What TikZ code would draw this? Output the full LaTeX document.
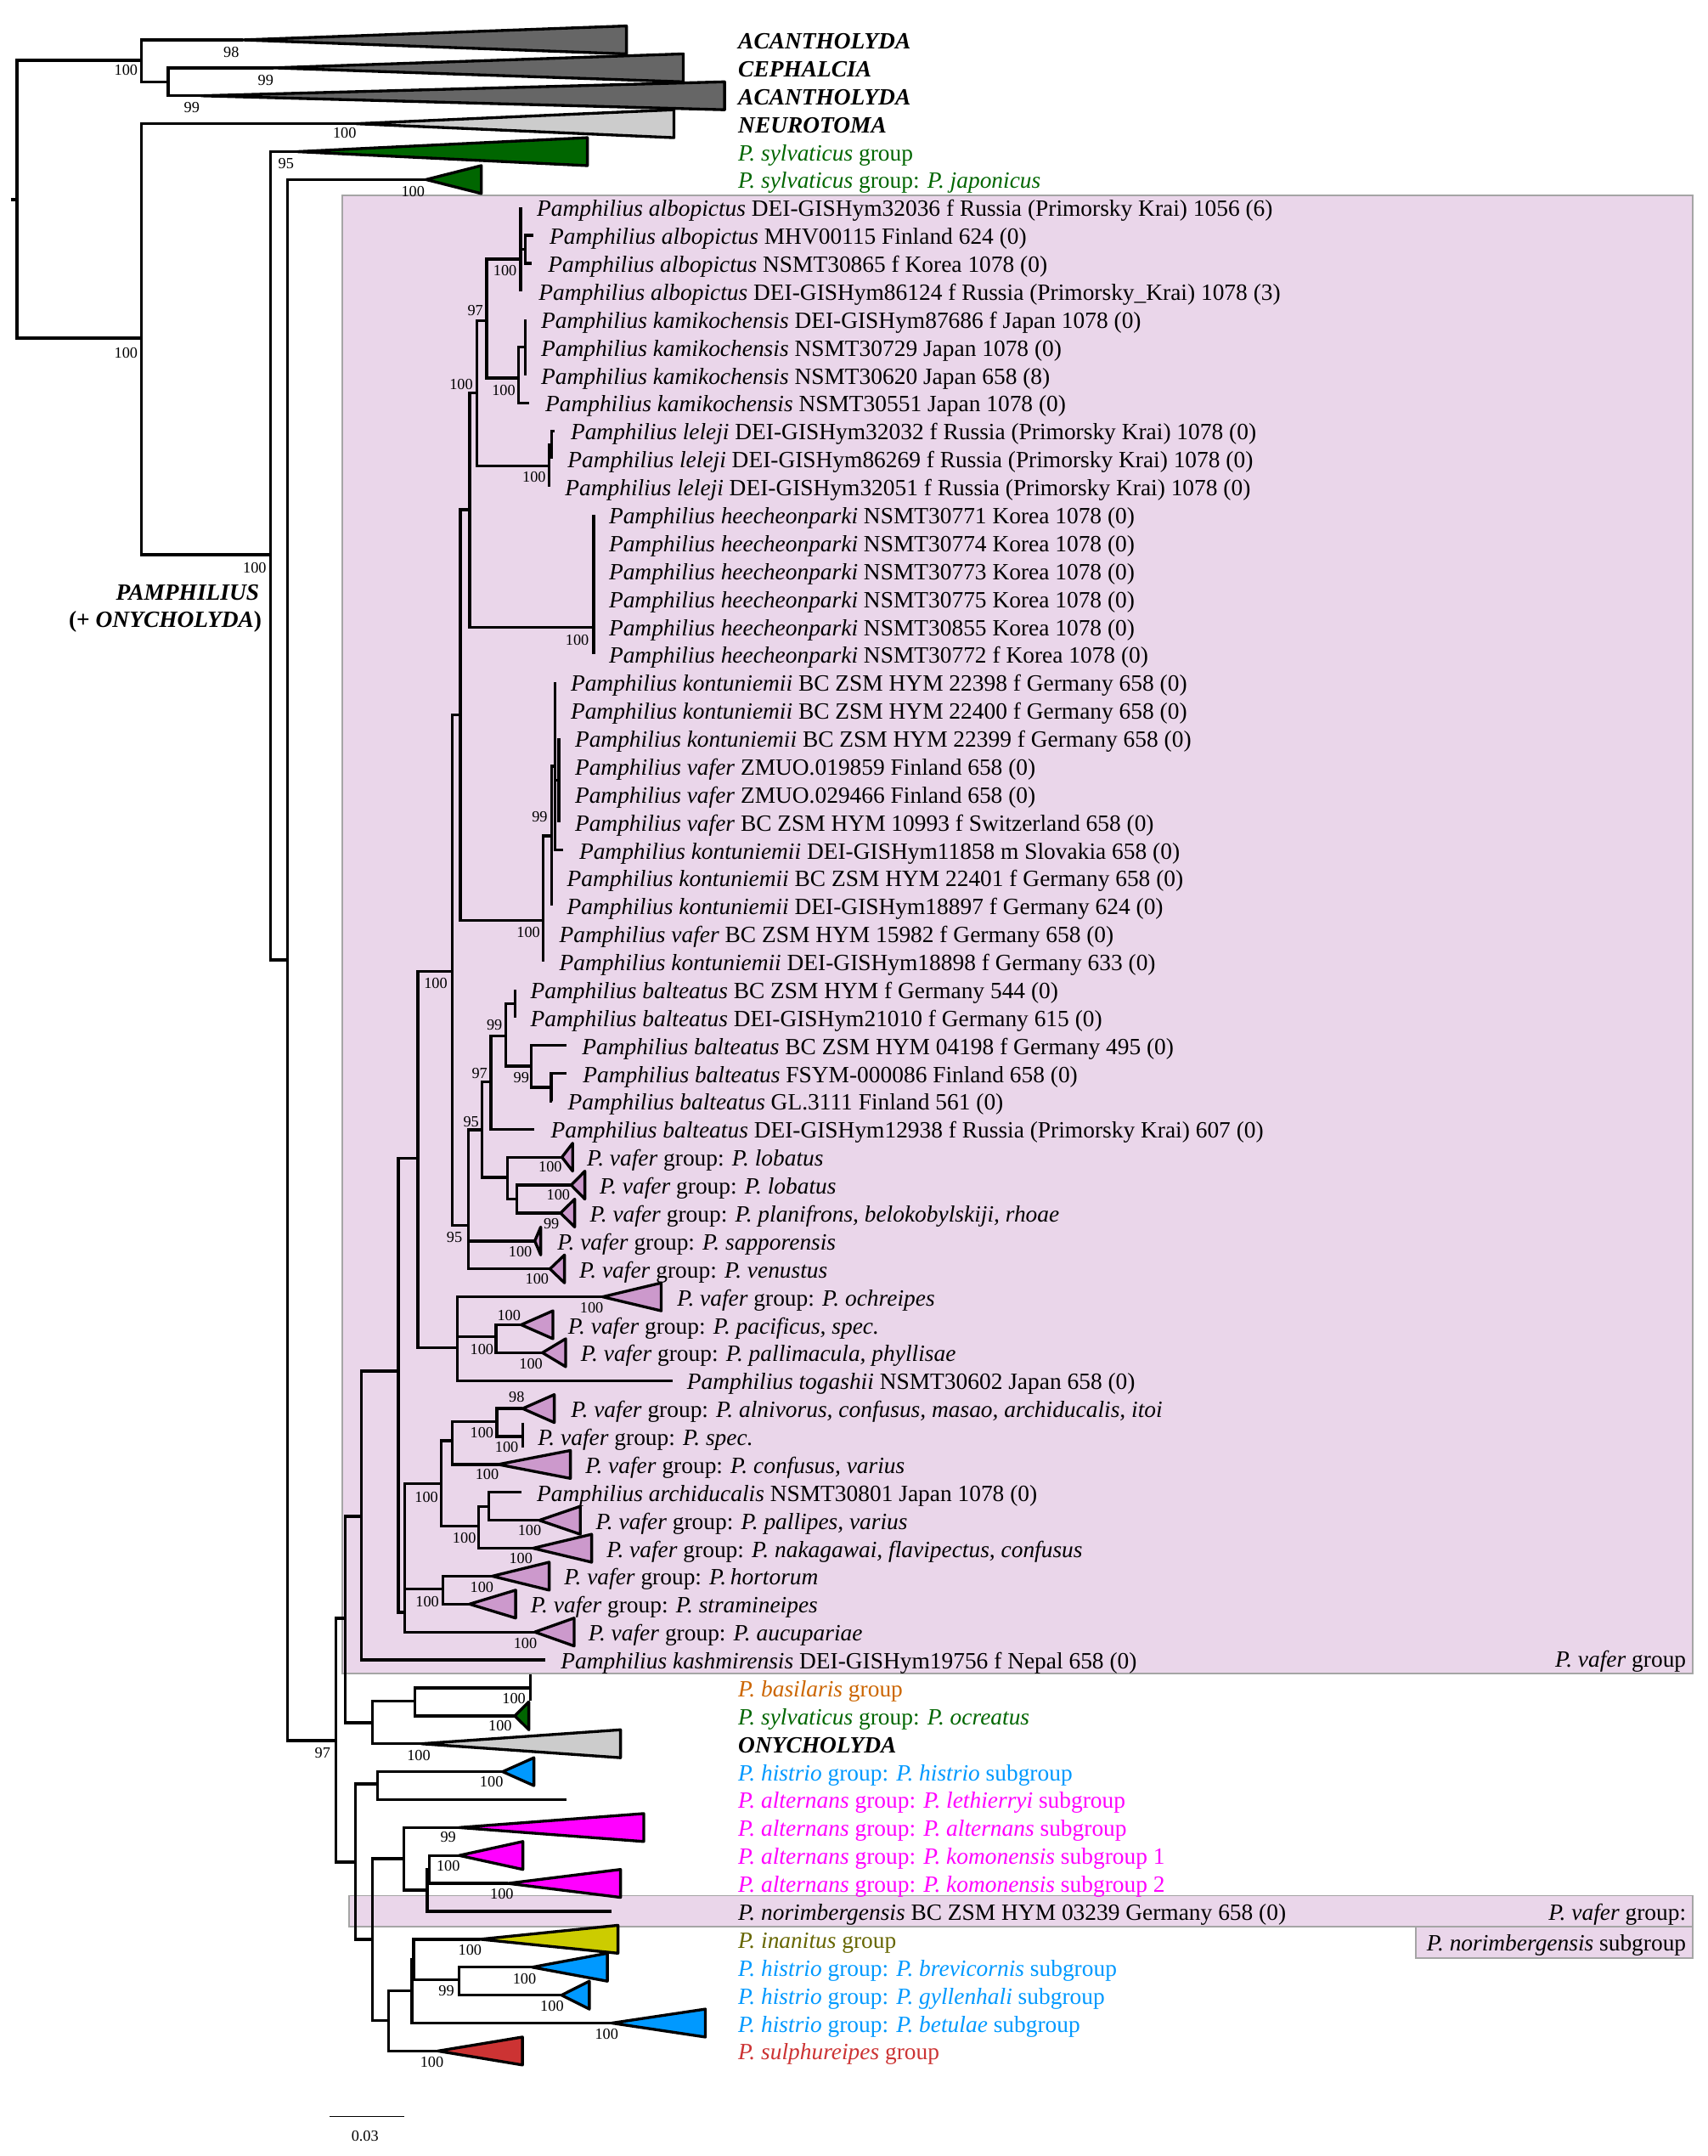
\documentclass[tikz,border=0pt]{standalone}
\usepackage{fontspec}
\setmainfont{Liberation Serif}
\usetikzlibrary{calc}
\definecolor{vbox}{RGB}{234,214,234}
\definecolor{vboxline}{RGB}{165,165,165}
\definecolor{vtri}{RGB}{204,153,204}
\definecolor{dgray}{RGB}{102,102,102}
\definecolor{lgray}{RGB}{204,204,204}
\definecolor{dgreen}{RGB}{0,102,0}
\definecolor{orng}{RGB}{204,102,0}
\definecolor{blu}{RGB}{0,153,255}
\definecolor{mag}{RGB}{255,0,255}
\definecolor{oliv}{RGB}{204,204,0}
\definecolor{olivtxt}{RGB}{102,102,0}
\definecolor{redd}{RGB}{204,51,51}
\newcommand\fs{\fontsize{7.8}{9}\selectfont}
\tikzset{
  br/.style={line width=0.95pt, line cap=butt},
  trist/.style={line width=0.95pt, line join=round},
  lab/.style={anchor=base west, inner sep=0pt, font=\fs},
  labe/.style={anchor=base east, inner sep=0pt, font=\fs},
  bsst/.style={anchor=center, inner sep=0pt, font=\fontsize{5.2}{6}\selectfont},
  boxst/.style={fill=vbox, draw=vboxline, line width=0.5pt}
}
\newcommand\mytri[5]{\coordinate (#1) at (#2,#3);
  \filldraw[trist, fill=#5] (#1) -- (#4,#3-0.5) -- (#4,#3+0.5) -- cycle;}
\newcommand\myed[2]{\foreach \ch in {#2} {\draw[br] (#1) |- (\ch);}}
\newcommand\rl[3]{\node[lab] (L#1) at (#2,#1+0.32) {#3};}
\newcommand\bsl[4]{\node[bsst] (#1) at (#2,#3) {#4};}
\newcommand\vg{\textit{P. vafer} group: }
\begin{document}
\begin{tikzpicture}[x=0.01cm,y=-0.3288cm]
\useasboundingbox (0,-1.4294) rectangle (2012,75.76);
\fill[white] (0,-1.4294) rectangle (2012,75.76);
% group boxes
\draw[boxst] (403,5.566) rectangle (1994.3,58.49);
\draw[boxst] (411.4,66.44) rectangle (1994.3,67.55);
\draw[boxst] (1667.7,67.55) rectangle (1994.3,68.67);
% internal nodes
\coordinate (rs) at (12.6,5.72);
\coordinate (root) at (20,5.72);
\coordinate (nA) at (166.5,0.73);
\coordinate (nC) at (198,1.5);
\coordinate (nB) at (166.5,10.675);
\coordinate (nD) at (318.5,18.43);
\coordinate (nE) at (338.7,32.94);
\coordinate (nF) at (396,60.89);
\coordinate (nR1) at (407,56.51);
\coordinate (nQ0) at (426,52.86);
\coordinate (nQ2) at (469.3,47.66);
\coordinate (nQ1) at (492.3,40.03);
\coordinate (nP4) at (532.5,33.34);
\coordinate (nP3) at (542.3,24.17);
\coordinate (nP2) at (553.3,16.82);
\coordinate (nP1) at (561.7,12.63);
\coordinate (nAK) at (573.3,10.05);
\coordinate (nAl) at (613.3,7.85);
\coordinate (nAl2) at (618.7,7.5);
\coordinate (nKa) at (611,12.1);
\coordinate (nKa2) at (618.7,11);
\coordinate (nLe) at (646.7,15.25);
\coordinate (nLe2) at (650,14.5);
\coordinate (nHe) at (699.3,21.03);
\coordinate (nK0) at (640,31.52);
\coordinate (nK1) at (650,28.5);
\coordinate (nK2) at (653.7,26);
\coordinate (nK3) at (658.3,26.5);
\coordinate (nP5) at (551.5,42.45);
\coordinate (nB4) at (567.7,39.02);
\coordinate (nB1p) at (578.3,37.3);
\coordinate (nB1) at (596,35.65);
\coordinate (nB0) at (606.7,34.5);
\coordinate (nB2) at (626,36.74);
\coordinate (nB3) at (649.3,37.5);
\coordinate (nL0) at (597.9,40.72);
\coordinate (nL1) at (608.6,41.5);
\coordinate (nO1) at (539,46.83);
\coordinate (nO2) at (584.3,46.42);
\coordinate (nQ3) at (477,56.29);
\coordinate (nQ4) at (519.5,51.69);
\coordinate (nQ6) at (532.5,50.15);
\coordinate (nQ7) at (585.4,49.46);
\coordinate (nQ8) at (564,53.21);
\coordinate (nQ9) at (575.7,52.5);
\coordinate (nQ5) at (522,55.45);
\coordinate (nS) at (439,60.25);
\coordinate (nT) at (489,59.47);
\coordinate (nH) at (419,65.24);
\coordinate (nH1) at (445,62.44);
\coordinate (nH2) at (439,68.0);
\coordinate (nJ1) at (476,65.11);
\coordinate (nJ2) at (503.3,66.24);
\coordinate (nJ3) at (505.5,65.5);
\coordinate (nK) at (458,70.91);
\coordinate (nK1x) at (485.3,69.84);
\coordinate (nK2x) at (487.3,68.73);
\coordinate (nK3x) at (541,69.44);
% tips
\coordinate (t6) at (613.3,6);
\coordinate (t7) at (628.3,7);
\coordinate (t8) at (626.7,8);
\coordinate (t9) at (613.3,9);
\coordinate (t10) at (618.7,10);
\coordinate (t11) at (618.7,11);
\coordinate (t12) at (618.7,12);
\coordinate (t13) at (623.7,13);
\coordinate (t14) at (653,14);
\coordinate (t15) at (650,15);
\coordinate (t16) at (646.7,16);
\foreach \r in {17,...,22} {\coordinate (t\r) at (699.3,\r);}
\coordinate (t23) at (653.7,23);
\coordinate (t24) at (653.7,24);
\foreach \r in {25,...,28} {\coordinate (t\r) at (658.3,\r);}
\coordinate (t29) at (663.7,29);
\coordinate (t30) at (650,30);
\coordinate (t31) at (650,31);
\coordinate (t32) at (640,32);
\coordinate (t33) at (640,33);
\coordinate (t34) at (606.7,34);
\coordinate (t35) at (606.7,35);
\coordinate (t36) at (667,36);
\coordinate (t37) at (667,37);
\coordinate (t38) at (650.3,38);
\coordinate (t39) at (629.3,39);
\coordinate (t48) at (792.5,48);
\coordinate (t52) at (614,52);
\coordinate (t58) at (642.5,58);
\coordinate (t63) at (667,63);
\coordinate (t67) at (720,67);
\coordinate (tSp) at (615.7,50);
\coordinate (tBa) at (625,59);
% collapsed clades
\mytri{tAc1}{286}{0}{738}{dgray}
\mytri{tCe}{322}{1}{805}{dgray}
\mytri{tAc2}{237}{2}{853.6}{dgray}
\mytri{tNe}{420}{3}{794}{lgray}
\mytri{tSy}{350}{4}{692}{dgreen}
\mytri{tJa}{502}{5}{567}{dgreen}
\mytri{tLo1}{662}{40}{674.6}{vtri}
\mytri{tLo2}{672.9}{41}{689}{vtri}
\mytri{tPl}{660.4}{42}{677}{vtri}
\mytri{tSap}{630}{43}{637}{vtri}
\mytri{tVen}{647.9}{44}{665}{vtri}
\mytri{tOc}{710}{45}{779}{vtri}
\mytri{tPa}{614}{46}{651.4}{vtri}
\mytri{tPm}{639}{47}{666.4}{vtri}
\mytri{tAl}{615.7}{49}{653}{vtri}
\mytri{tCo}{587}{51}{672}{vtri}
\mytri{tPp}{635.4}{53}{683.6}{vtri}
\mytri{tNa}{628}{54}{697}{vtri}
\mytri{tHo}{580}{55}{647}{vtri}
\mytri{tSt}{553.2}{56}{607.5}{vtri}
\mytri{tAu}{630}{57}{676.4}{vtri}
\mytri{tOcr}{606.5}{60}{623}{dgreen}
\mytri{tOn}{496.3}{61}{731}{lgray}
\mytri{tHi}{592.2}{62}{629}{blu}
\mytri{tAlt}{541}{64}{758.4}{mag}
\mytri{tKo1}{541}{65}{616}{mag}
\mytri{tKo2}{598.4}{66}{731}{mag}
\mytri{tIn}{565.7}{68}{728}{oliv}
\mytri{tBr}{627}{69}{715.5}{blu}
\mytri{tGy}{661.6}{70}{694.3}{blu}
\mytri{tBe}{720.8}{71}{831}{blu}
\mytri{tSu}{516}{72}{615.5}{redd}
% collapsed clades drawn as bars
\draw[br] ($(tSp)+(0,-0.5)$) -- ($(tSp)+(0,0.4)$);
\draw[br] ($(tBa)+(0,-0.47)$) -- ($(tBa)+(0,0.45)$);
% branches
\draw[br] (rs) -- (root);
\myed{root}{nA,nB}
\myed{nA}{tAc1,nC}
\myed{nC}{tCe,tAc2}
\myed{nB}{tNe,nD}
\myed{nD}{tSy,nE}
\myed{nE}{tJa,nF}
\myed{nF}{nR1,nH}
\myed{nR1}{nQ0,nS}
\myed{nQ0}{nQ2,t58}
\myed{nQ2}{nQ1,nQ3}
\myed{nQ1}{nP4,nO1}
\myed{nP4}{nP3,nP5}
\myed{nP3}{nP2,nK0}
\myed{nP2}{nP1,nHe}
\myed{nP1}{nAK,nLe}
\myed{nAK}{nAl,nKa}
\myed{nAl}{t6,nAl2,t9}
\myed{nAl2}{t7,t8}
\myed{nKa}{nKa2,t13}
\myed{nKa2}{t10,t11,t12}
\myed{nLe}{nLe2,t16}
\myed{nLe2}{t14,t15}
\myed{nHe}{t17,t18,t19,t20,t21,t22}
\myed{nK0}{nK1,t32,t33}
\myed{nK1}{nK2,t30,t31}
\myed{nK2}{t23,t24,nK3,t29}
\myed{nK3}{t25,t26,t27,t28}
\myed{nP5}{nB4,tSap,tVen}
\myed{nB4}{nB1p,nL0}
\myed{nB1p}{nB1,t39}
\myed{nB1}{nB0,nB2}
\myed{nB0}{t34,t35}
\myed{nB2}{t36,nB3}
\myed{nB3}{t37,t38}
\myed{nL0}{tLo1,nL1}
\myed{nL1}{tLo2,tPl}
\myed{nO1}{tOc,nO2,t48}
\myed{nO2}{tPa,tPm}
\myed{nQ3}{nQ4,nQ5,tAu}
\myed{nQ4}{nQ6,nQ8}
\myed{nQ6}{nQ7,tCo}
\myed{nQ7}{tAl,tSp}
\myed{nQ8}{nQ9,tNa}
\myed{nQ9}{t52,tPp}
\myed{nQ5}{tHo,tSt}
\myed{nS}{nT,tOn}
\myed{nT}{tBa,tOcr}
\myed{nH}{nH1,nH2}
\myed{nH1}{tHi,t63}
\myed{nH2}{nJ1,nK}
\myed{nJ1}{tAlt,nJ2}
\myed{nJ2}{nJ3,t67}
\myed{nJ3}{tKo1,tKo2}
\myed{nK}{nK1x,tSu}
\myed{nK1x}{nK2x,tBe}
\myed{nK2x}{tIn,nK3x}
\myed{nK3x}{tBr,tGy}
% bootstrap values
\bsl{b1}{148.5}{1.095}{100}
\bsl{b2}{272.5}{0.447}{98}
\bsl{b3}{313}{1.46}{99}
\bsl{b4}{226}{2.424}{99}
\bsl{b5}{406}{3.336}{100}
\bsl{b6}{337}{4.431}{95}
\bsl{b7}{486.5}{5.414}{100}
\bsl{b8}{148.5}{11.2}{100}
\bsl{b9}{300}{18.91}{100}
\bsl{b10}{380}{61.34}{97}
\bsl{b11}{595}{8.27}{100}
\bsl{b12}{560}{9.69}{97}
\bsl{b13}{543.3}{12.33}{100}
\bsl{b14}{593.3}{12.54}{100}
\bsl{b15}{629.2}{15.65}{100}
\bsl{b16}{680}{21.48}{100}
\bsl{b17}{635.8}{27.82}{99}
\bsl{b18}{622.5}{31.94}{100}
\bsl{b19}{513.3}{33.77}{100}
\bsl{b20}{582.5}{35.27}{99}
\bsl{b21}{614.2}{37.14}{99}
\bsl{b22}{565}{36.99}{97}
\bsl{b23}{555}{38.72}{95}
\bsl{b24}{648.2}{40.34}{100}
\bsl{b25}{657.7}{41.35}{100}
\bsl{b26}{649.6}{42.37}{99}
\bsl{b27}{613}{43.38}{100}
\bsl{b28}{632.7}{44.36}{100}
\bsl{b29}{535.4}{42.87}{95}
\bsl{b30}{697}{45.38}{100}
\bsl{b31}{599.6}{45.66}{100}
\bsl{b32}{567.7}{46.88}{100}
\bsl{b33}{625.5}{47.41}{100}
\bsl{b34}{608.6}{48.6}{98}
\bsl{b35}{567.7}{49.87}{100}
\bsl{b36}{597}{50.37}{100}
\bsl{b37}{573.8}{51.34}{100}
\bsl{b38}{502.4}{52.16}{100}
\bsl{b39}{623.8}{53.37}{100}
\bsl{b40}{547}{53.62}{100}
\bsl{b41}{613.6}{54.35}{100}
\bsl{b42}{567.7}{55.39}{100}
\bsl{b43}{503.4}{55.9}{100}
\bsl{b44}{618.8}{57.39}{100}
\bsl{b45}{605.5}{59.38}{100}
\bsl{b46}{589.2}{60.36}{100}
\bsl{b47}{493.3}{61.41}{100}
\bsl{b48}{579}{62.36}{100}
\bsl{b49}{528}{64.35}{99}
\bsl{b50}{528}{65.36}{100}
\bsl{b51}{591.2}{66.39}{100}
\bsl{b52}{553.7}{68.37}{100}
\bsl{b53}{617.8}{69.41}{100}
\bsl{b54}{525.9}{69.84}{99}
\bsl{b55}{650.3}{70.4}{100}
\bsl{b56}{714.7}{71.41}{100}
\bsl{b57}{508.8}{72.4}{100}
% big clade name
\node[labe] (pam1) at (306,20.07) {\textbf{\textit{PAMPHILIUS}}};
\node[labe] (pam2) at (309,21.02) {\textbf{(+ \textit{ONYCHOLYDA})}};
% tip labels outside box (top)
\rl{0}{869}{\textbf{\textit{ACANTHOLYDA}}}
\rl{1}{869}{\textbf{\textit{CEPHALCIA}}}
\rl{2}{869}{\textbf{\textit{ACANTHOLYDA}}}
\rl{3}{869}{\textbf{\textit{NEUROTOMA}}}
\rl{4}{869}{\color{dgreen}\textit{P. sylvaticus} group}
\rl{5}{869}{\color{dgreen}\textit{P. sylvaticus} group: \textit{P. japonicus}}
% tip labels in vafer box
\rl{6}{631.7}{\textit{Pamphilius albopictus} DEI-GISHym32036 f Russia (Primorsky Krai) 1056 (6)}
\rl{7}{646.7}{\textit{Pamphilius albopictus} MHV00115 Finland 624 (0)}
\rl{8}{645}{\textit{Pamphilius albopictus} NSMT30865 f Korea 1078 (0)}
\rl{9}{634}{\textit{Pamphilius albopictus} DEI-GISHym86124 f Russia (Primorsky\_Krai) 1078 (3)}
\rl{10}{636.7}{\textit{Pamphilius kamikochensis} DEI-GISHym87686 f Japan 1078 (0)}
\rl{11}{636.7}{\textit{Pamphilius kamikochensis} NSMT30729 Japan 1078 (0)}
\rl{12}{636.7}{\textit{Pamphilius kamikochensis} NSMT30620 Japan 658 (8)}
\rl{13}{641.7}{\textit{Pamphilius kamikochensis} NSMT30551 Japan 1078 (0)}
\rl{14}{671.7}{\textit{Pamphilius leleji} DEI-GISHym32032 f Russia (Primorsky Krai) 1078 (0)}
\rl{15}{668}{\textit{Pamphilius leleji} DEI-GISHym86269 f Russia (Primorsky Krai) 1078 (0)}
\rl{16}{665}{\textit{Pamphilius leleji} DEI-GISHym32051 f Russia (Primorsky Krai) 1078 (0)}
\rl{17}{716.7}{\textit{Pamphilius heecheonparki} NSMT30771 Korea 1078 (0)}
\rl{18}{716.7}{\textit{Pamphilius heecheonparki} NSMT30774 Korea 1078 (0)}
\rl{19}{716.7}{\textit{Pamphilius heecheonparki} NSMT30773 Korea 1078 (0)}
\rl{20}{716.7}{\textit{Pamphilius heecheonparki} NSMT30775 Korea 1078 (0)}
\rl{21}{716.7}{\textit{Pamphilius heecheonparki} NSMT30855 Korea 1078 (0)}
\rl{22}{716.7}{\textit{Pamphilius heecheonparki} NSMT30772 f Korea 1078 (0)}
\rl{23}{671.7}{\textit{Pamphilius kontuniemii} BC ZSM HYM 22398 f Germany 658 (0)}
\rl{24}{671.7}{\textit{Pamphilius kontuniemii} BC ZSM HYM 22400 f Germany 658 (0)}
\rl{25}{676.7}{\textit{Pamphilius kontuniemii} BC ZSM HYM 22399 f Germany 658 (0)}
\rl{26}{676.7}{\textit{Pamphilius vafer} ZMUO.019859 Finland 658 (0)}
\rl{27}{676.7}{\textit{Pamphilius vafer} ZMUO.029466 Finland 658 (0)}
\rl{28}{676.7}{\textit{Pamphilius vafer} BC ZSM HYM 10993 f Switzerland 658 (0)}
\rl{29}{681.7}{\textit{Pamphilius kontuniemii} DEI-GISHym11858 m Slovakia 658 (0)}
\rl{30}{667.3}{\textit{Pamphilius kontuniemii} BC ZSM HYM 22401 f Germany 658 (0)}
\rl{31}{667.3}{\textit{Pamphilius kontuniemii} DEI-GISHym18897 f Germany 624 (0)}
\rl{32}{658.3}{\textit{Pamphilius vafer} BC ZSM HYM 15982 f Germany 658 (0)}
\rl{33}{658.3}{\textit{Pamphilius kontuniemii} DEI-GISHym18898 f Germany 633 (0)}
\rl{34}{624.3}{\textit{Pamphilius balteatus} BC ZSM HYM f Germany 544 (0)}
\rl{35}{624.3}{\textit{Pamphilius balteatus} DEI-GISHym21010 f Germany 615 (0)}
\rl{36}{685}{\textit{Pamphilius balteatus} BC ZSM HYM 04198 f Germany 495 (0)}
\rl{37}{686}{\textit{Pamphilius balteatus} FSYM-000086 Finland 658 (0)}
\rl{38}{668.3}{\textit{Pamphilius balteatus} GL.3111 Finland 561 (0)}
\rl{39}{648.3}{\textit{Pamphilius balteatus} DEI-GISHym12938 f Russia (Primorsky Krai) 607 (0)}
\rl{40}{690.7}{\vg\textit{P. lobatus}}
\rl{41}{705.7}{\vg\textit{P. lobatus}}
\rl{42}{694.3}{\vg\textit{P. planifrons, belokobylskiji, rhoae}}
\rl{43}{656}{\vg\textit{P. sapporensis}}
\rl{44}{681.8}{\vg\textit{P. venustus}}
\rl{45}{797}{\vg\textit{P. ochreipes}}
\rl{46}{668.6}{\vg\textit{P. pacificus, spec.}}
\rl{47}{683.6}{\vg\textit{P. pallimacula, phyllisae}}
\rl{48}{808.6}{\textit{Pamphilius togashii} NSMT30602 Japan 658 (0)}
\rl{49}{672}{\vg\textit{P. alnivorus, confusus, masao, archiducalis, itoi}}
\rl{50}{632.9}{\vg\textit{P. spec.}}
\rl{51}{689}{\vg\textit{P. confusus, varius}}
\rl{52}{631.8}{\textit{Pamphilius archiducalis} NSMT30801 Japan 1078 (0)}
\rl{53}{701.4}{\vg\textit{P. pallipes, varius}}
\rl{54}{714}{\vg\textit{P. nakagawai, flavipectus, confusus}}
\rl{55}{664}{\vg\textit{P.\,hortorum}}
\rl{56}{624.6}{\vg\textit{P. stramineipes}}
\rl{57}{692.5}{\vg\textit{P. aucupariae}}
\rl{58}{660}{\textit{Pamphilius kashmirensis} DEI-GISHym19756 f Nepal 658 (0)}
\node[labe] (gv) at (1987,58.27) {\textit{P. vafer} group};
% tip labels outside box (bottom)
\rl{59}{869}{\color{orng}\textit{P. basilaris} group}
\rl{60}{869}{\color{dgreen}\textit{P. sylvaticus} group: \textit{P. ocreatus}}
\rl{61}{869}{\textbf{\textit{ONYCHOLYDA}}}
\rl{62}{869}{\color{blu}\textit{P. histrio} group: \textit{P. histrio} subgroup}
\rl{63}{869}{\color{mag}\textit{P. alternans} group: \textit{P. lethierryi} subgroup}
\rl{64}{869}{\color{mag}\textit{P. alternans} group: \textit{P. alternans} subgroup}
\rl{65}{869}{\color{mag}\textit{P. alternans} group: \textit{P. komonensis} subgroup 1}
\rl{66}{869}{\color{mag}\textit{P. alternans} group: \textit{P. komonensis} subgroup 2}
\rl{67}{869}{\textit{P. norimbergensis} BC ZSM HYM 03239 Germany 658 (0)}
\rl{68}{869}{\color{olivtxt}\textit{P. inanitus} group}
\rl{69}{869}{\color{blu}\textit{P. histrio} group: \textit{P. brevicornis} subgroup}
\rl{70}{869}{\color{blu}\textit{P. histrio} group: \textit{P. gyllenhali} subgroup}
\rl{71}{869}{\color{blu}\textit{P. histrio} group: \textit{P. betulae} subgroup}
\rl{72}{869}{\color{redd}\textit{P. sulphureipes} group}
\node[labe] (gn1) at (1987,67.33) {\textit{P. vafer} group:};
\node[labe] (gn2) at (1987,68.42) {\textit{P. norimbergensis} subgroup};
% scale bar
\coordinate (sbL) at (388.3,74.35);
\coordinate (sbR) at (476.7,74.35);
\draw[line width=0.45pt] (sbL) -- (sbR);
\node[bsst] (sbt) at (430,75.06) {0.03};
\end{tikzpicture}
\end{document}
